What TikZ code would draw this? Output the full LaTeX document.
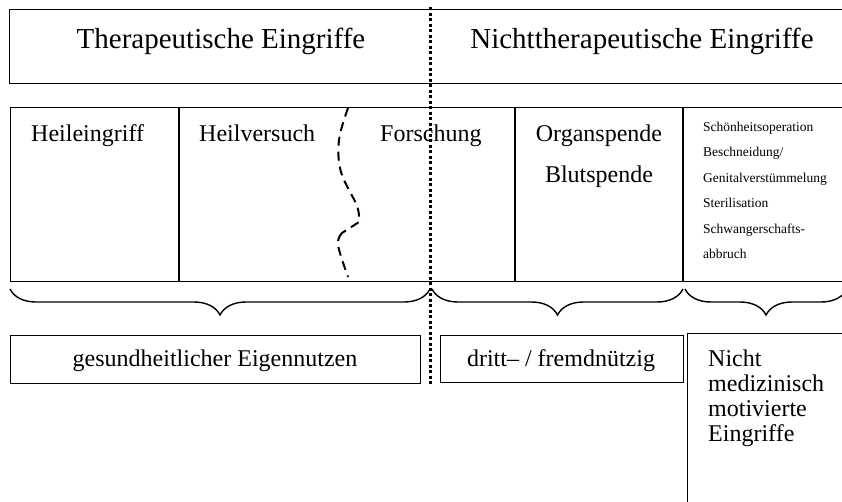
\documentclass[tikz,border=0pt]{standalone}
\usepackage{fontspec}
\setmainfont{Liberation Serif}
\usetikzlibrary{decorations.pathreplacing}

\begin{document}
\begin{tikzpicture}[x=1pt,y=-1pt,
  frame/.style={draw, line width=1.4pt, inner sep=0pt, anchor=north west},
  sep/.style={line width=1.4pt},
  lbl/.style={inner sep=0pt, font=\fontsize{24}{28}\selectfont},
  head/.style={inner sep=0pt, anchor=base, font=\fontsize{29}{34}\selectfont},
  small/.style={inner sep=0pt, anchor=base west, font=\fontsize{13.5}{16}\selectfont},
  curly/.style={decorate, decoration={brace, mirror, amplitude=26pt}, line width=1.4pt},
  divide/.style={line width=3pt, dash pattern=on 3pt off 2.5pt},
  wave/.style={line width=2pt, dash pattern=on 9pt off 6pt, line cap=butt}]
\clip (0,0) rectangle (842,501);

% headline band
\node[frame, minimum width=860pt, minimum height=74pt] (band) at (9,9) {};
\node[head] (ther) at (221,48) {Therapeutische Eingriffe};
\node[head] (nonther) at (642,48) {Nichttherapeutische Eingriffe};

% row of intervention types
\node[frame, minimum width=860pt, minimum height=174pt] (row) at (10,107) {};
\coordinate (d1t) at (179,107); \coordinate (d1b) at (179,281);
\coordinate (d2t) at (515,107); \coordinate (d2b) at (515,281);
\coordinate (d3t) at (683,107); \coordinate (d3b) at (683,281);
\draw[sep] (d1t) -- (d1b);
\draw[sep] (d2t) -- (d2b);
\draw[sep] (d3t) -- (d3b);

\node[lbl, anchor=base west] (heil) at (31,141.5) {Heileingriff};
\node[lbl, anchor=base west] (versuch) at (199,141.5) {Heilversuch};
\node[lbl, anchor=base west] (forsch) at (380,141.5) {Forschung};
\node[lbl, anchor=base] (organ) at (599,141.5) {Organspende};
\node[lbl, anchor=base] (blut) at (599,182) {Blutspende};

\node[small] (s1) at (703,131) {Schönheitsoperation};
\node[small] (s2) at (703,156.5) {Beschneidung/};
\node[small] (s3) at (703,182) {Genitalverstümmelung};
\node[small] (s4) at (703,207.5) {Sterilisation};
\node[small] (s5) at (703,233) {Schwangerschafts-};
\node[small] (s6) at (703,258.5) {abbruch};

% blurred border between Heilversuch and Forschung
\draw[wave] plot[smooth, tension=0.6] coordinates {(348,108) (339,140) (341,172) (357,206) (359,222)}
  -- (342,233) plot[smooth, tension=0.6] coordinates {(342,233) (338,245) (348,277)};

% braces
\draw[curly] (10,289) -- (430,289);
\draw[curly] (432,289) -- (683,289);
\draw[curly] (685,289) -- (847,289);

% groups
\node[frame, minimum width=410pt, minimum height=48pt] (own) at (10,335) {};
\node[lbl, anchor=base] (owntxt) at (215,366) {gesundheitlicher Eigennutzen};
\node[frame, minimum width=243pt, minimum height=47pt] (third) at (440,335) {};
\node[lbl, anchor=base] (thirdtxt) at (561,366) {dritt– / fremdnützig};
\node[frame, minimum width=200pt, minimum height=200pt] (nonmed) at (687,333) {};
\node[lbl, anchor=base west] (n1) at (708,366) {Nicht};
\node[lbl, anchor=base west] (n2) at (708,391) {medizinisch};
\node[lbl, anchor=base west] (n3) at (708,416) {motivierte};
\node[lbl, anchor=base west] (n4) at (708,441) {Eingriffe};

% dividing line between therapeutic and non-therapeutic
\coordinate (divtop) at (430,7);
\coordinate (divbot) at (430,386);
\draw[divide] (divtop) -- (divbot);
\end{tikzpicture}
\end{document}
